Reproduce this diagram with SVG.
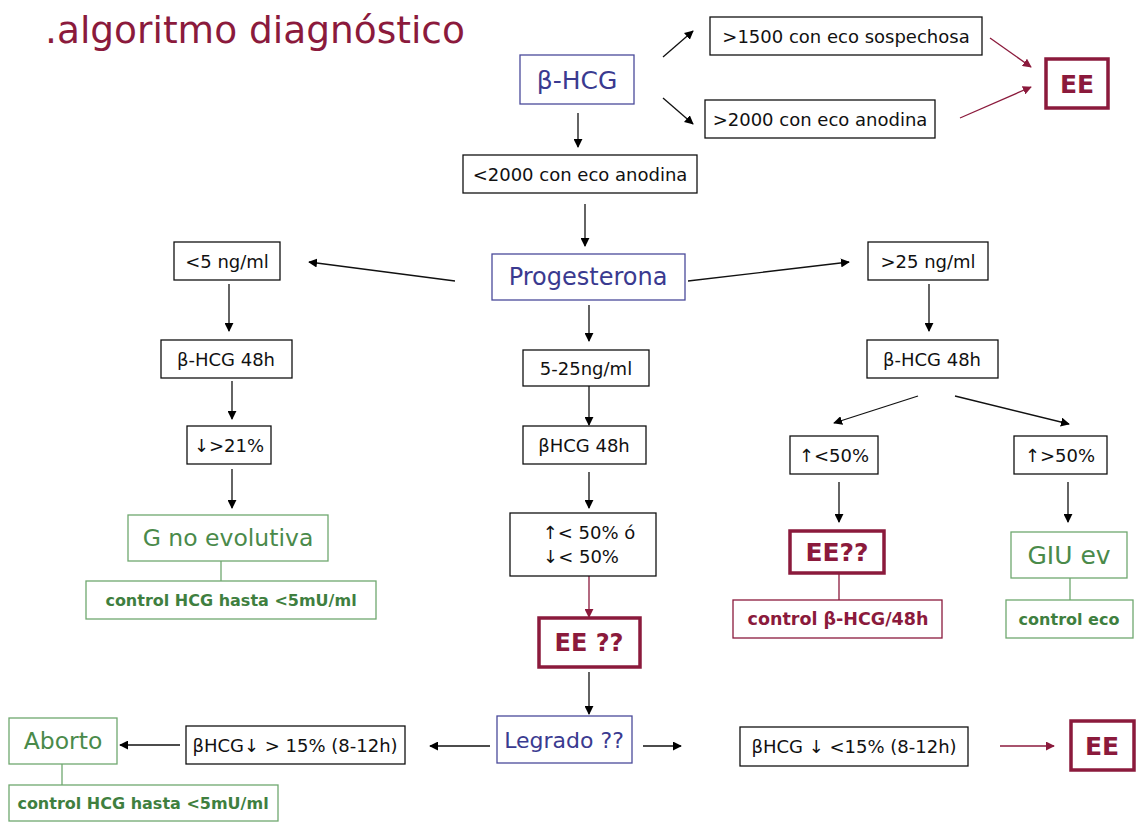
<svg xmlns="http://www.w3.org/2000/svg" width="1136" height="822" viewBox="0 0 1136 822">
<defs>
<marker id="ab" viewBox="0 0 10 10" refX="9" refY="5" markerWidth="9" markerHeight="9" markerUnits="userSpaceOnUse" orient="auto"><path d="M0,0 L10,5 L0,10 z" fill="#000"/></marker>
<marker id="am" viewBox="0 0 10 10" refX="9" refY="5" markerWidth="9" markerHeight="9" markerUnits="userSpaceOnUse" orient="auto"><path d="M0,0 L10,5 L0,10 z" fill="#8b1a3c"/></marker>
<style>
text{font-family:"DejaVu Sans","Liberation Sans",sans-serif;text-anchor:middle;dominant-baseline:central}
.bx{fill:#fff;stroke:#111;stroke-width:1.3}
.bt{fill:#111;font-size:18px}
.blb{fill:#fff;stroke:#4a4a9a;stroke-width:1.3}
.blt{fill:#3a3a90;font-size:24px}
.gb{fill:#fff;stroke:#6fa86f;stroke-width:1.3}
.gt{fill:#4a8a4a;font-size:23.5px}
.gs{fill:#3f7f3f;font-size:16px;font-weight:bold}
.mb{fill:#fff;stroke:#8b1a3c;stroke-width:3.5}
.mt{fill:#8b1a3c;font-size:24px;font-weight:bold}
.mbs{fill:#fff;stroke:#8b1a3c;stroke-width:1.3}
.ms{fill:#8b1a3c;font-size:17.5px;font-weight:bold}
.c{stroke:#111;stroke-width:1.3;fill:none;marker-end:url(#ab)}
.cm{stroke:#8b1a3c;stroke-width:1.3;fill:none;marker-end:url(#am)}
.l{stroke:#6fa86f;stroke-width:1.3;fill:none}
.lm{stroke:#8b1a3c;stroke-width:1.3;fill:none}
</style>
</defs>
<rect width="1136" height="822" fill="#fff"/>
<text x="45" y="30" style="text-anchor:start;font-size:37.5px;fill:#8b1a3c">.algoritmo diagnóstico</text>

<g id="connectors">
<line class="c" x1="663" y1="57" x2="693" y2="31"/>
<line class="c" x1="663" y1="98" x2="693" y2="124"/>
<line class="cm" x1="990" y1="38" x2="1031" y2="67"/>
<line class="cm" x1="960" y1="118" x2="1031" y2="87"/>
<line class="c" x1="578" y1="113" x2="578" y2="147"/>
<line class="c" x1="585" y1="204" x2="585" y2="246"/>
<line class="c" x1="455" y1="281" x2="309" y2="262"/>
<line class="c" x1="688" y1="281" x2="849" y2="262"/>
<line class="c" x1="229" y1="284" x2="229" y2="331"/>
<line class="c" x1="232" y1="381" x2="232" y2="419"/>
<line class="c" x1="232" y1="469" x2="232" y2="508"/>
<line class="l" x1="221" y1="561" x2="221" y2="581"/>
<line class="c" x1="589" y1="305" x2="589" y2="341"/>
<line class="c" x1="589" y1="386" x2="589" y2="425"/>
<line class="c" x1="589" y1="472" x2="589" y2="508"/>
<line class="cm" x1="589" y1="576" x2="589" y2="617"/>
<line class="c" x1="589" y1="672" x2="589" y2="714"/>
<line class="c" x1="643" y1="746" x2="681" y2="746"/>
<line class="cm" x1="1000" y1="746" x2="1054" y2="746"/>
<line class="c" x1="490" y1="746" x2="430" y2="746"/>
<line class="c" x1="180" y1="745" x2="120" y2="745"/>
<line class="l" x1="62" y1="764" x2="62" y2="785"/>
<line class="c" x1="929" y1="284" x2="929" y2="331"/>
<line class="c" x1="918" y1="396" x2="834" y2="423"/>
<line class="c" x1="955" y1="396" x2="1069" y2="424"/>
<line class="c" x1="839" y1="482" x2="839" y2="522"/>
<line class="c" x1="1068" y1="482" x2="1068" y2="522"/>
<line class="lm" x1="839" y1="573" x2="839" y2="600"/>
<line class="l" x1="1070" y1="578" x2="1070" y2="600"/>
</g>

<g id="bhcg"><rect class="blb" x="520" y="55" width="114" height="49"/><text class="blt" x="577" y="80" style="font-size:25px">β-HCG</text></g>
<g id="n1500"><rect class="bx" x="710" y="17" width="272" height="38"/><text class="bt" x="846" y="36">&gt;1500 con eco sospechosa</text></g>
<g id="n2000"><rect class="bx" x="705" y="100" width="230" height="38"/><text class="bt" x="820" y="119">&gt;2000 con eco anodina</text></g>
<g id="ee1"><rect class="mb" x="1046" y="59" width="62" height="49"/><text class="mt" x="1077" y="84" style="font-size:25px">EE</text></g>
<g id="l2000"><rect class="bx" x="463" y="155" width="234" height="38"/><text class="bt" x="580" y="174">&lt;2000 con eco anodina</text></g>
<g id="prog"><rect class="blb" x="492" y="254" width="193" height="46"/><text class="blt" x="588" y="277">Progesterona</text></g>

<g id="lt5"><rect class="bx" x="174" y="242" width="106" height="38"/><text class="bt" x="227" y="261">&lt;5 ng/ml</text></g>
<g id="l48"><rect class="bx" x="161" y="340" width="131" height="38"/><text class="bt" x="226" y="359">β-HCG 48h</text></g>
<g id="l21"><rect class="bx" x="187" y="426" width="84" height="38"/><text class="bt" x="229" y="445">↓&gt;21%</text></g>
<g id="gnoev"><rect class="gb" x="128" y="515" width="200" height="46"/><text class="gt" x="228" y="538">G no evolutiva</text></g>
<g id="ctl1"><rect class="gb" x="86" y="581" width="290" height="38"/><text class="gs" x="231" y="600">control HCG hasta &lt;5mU/ml</text></g>

<g id="m525"><rect class="bx" x="523" y="350" width="126" height="36"/><text class="bt" x="586" y="368">5-25ng/ml</text></g>
<g id="m48"><rect class="bx" x="523" y="426" width="123" height="38"/><text class="bt" x="584" y="445">βHCG 48h</text></g>
<g id="m50"><rect class="bx" x="510" y="513" width="146" height="63"/><text class="bt" x="589" y="532">↑&lt; 50% ó</text><text class="bt" x="581" y="556">↓&lt; 50%</text></g>
<g id="ee2"><rect class="mb" x="539" y="618" width="101" height="49"/><text class="mt" x="589" y="643">EE ??</text></g>
<g id="legrado"><rect class="blb" x="497" y="716" width="135" height="47"/><text class="blt" x="564" y="740" style="font-size:22px">Legrado ??</text></g>
<g id="blt15"><rect class="bx" x="740" y="727" width="228" height="39"/><text class="bt" x="854" y="746">βHCG ↓ &lt;15% (8-12h)</text></g>
<g id="ee4"><rect class="mb" x="1071" y="721" width="63" height="49"/><text class="mt" x="1102" y="746" style="font-size:25px">EE</text></g>
<g id="bgt15"><rect class="bx" x="186" y="726" width="219" height="38"/><text class="bt" x="295" y="745">βHCG↓ &gt; 15% (8-12h)</text></g>
<g id="aborto"><rect class="gb" x="9" y="718" width="108" height="46"/><text class="gt" x="63" y="741">Aborto</text></g>
<g id="ctl2"><rect class="gb" x="9" y="785" width="269" height="36"/><text class="gs" x="143" y="803">control HCG hasta &lt;5mU/ml</text></g>

<g id="gt25"><rect class="bx" x="868" y="242" width="120" height="38"/><text class="bt" x="928" y="261">&gt;25 ng/ml</text></g>
<g id="r48"><rect class="bx" x="867" y="340" width="131" height="38"/><text class="bt" x="932" y="359">β-HCG 48h</text></g>
<g id="rlt50"><rect class="bx" x="790" y="436" width="88" height="38"/><text class="bt" x="834" y="455">↑&lt;50%</text></g>
<g id="rgt50"><rect class="bx" x="1014" y="436" width="93" height="38"/><text class="bt" x="1060" y="455">↑&gt;50%</text></g>
<g id="ee3"><rect class="mb" x="790" y="531" width="94" height="42"/><text class="mt" x="837" y="552" style="font-size:25px">EE??</text></g>
<g id="ctl3"><rect class="mbs" x="733" y="600" width="209" height="38"/><text class="ms" x="838" y="619">control β-HCG/48h</text></g>
<g id="giu"><rect class="gb" x="1011" y="532" width="116" height="46"/><text class="gt" x="1069" y="555" style="font-size:25px">GIU ev</text></g>
<g id="ctl4"><rect class="gb" x="1006" y="600" width="127" height="38"/><text class="gs" x="1069" y="619">control eco</text></g>
</svg>
